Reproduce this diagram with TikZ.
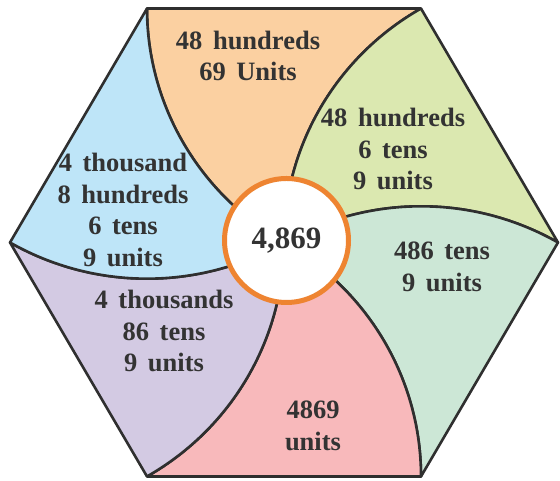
\documentclass[tikz,border=0pt]{standalone}
\usepackage{fontspec}
\setmainfont{Liberation Serif}[WordSpace=1.6]
\definecolor{outline}{HTML}{2F2F2F}
\definecolor{ink}{HTML}{333333}
\definecolor{ring}{HTML}{EE8431}
\definecolor{peach}{HTML}{FBD0A1}
\definecolor{lime}{HTML}{DBE8B0}
\definecolor{mint}{HTML}{CCE7D6}
\definecolor{rose}{HTML}{F8B9BB}
\definecolor{lilac}{HTML}{D3CAE3}
\definecolor{sky}{HTML}{BEE5F8}
\begin{document}
\begin{tikzpicture}[x=1pt,y=1pt,
  petal/.style={draw=outline, line width=2.6pt, line join=round},
  lbl/.style={text=ink, font=\fontsize{26.5}{31.5}\selectfont\bfseries, align=center, inner sep=0pt},
]
\useasboundingbox (0,0) rectangle (560,481);
% six petals of a hexagon, each bounded by two arcs of radius = side,
% centred on neighbouring corners and meeting in the middle
\def\side{274}
\begin{scope}[shift={(284,238.5)}, yscale=0.986]
  \foreach \b/\col in {60/peach, 0/lime, -60/mint, -120/rose, -180/lilac, 120/sky}
    \filldraw[petal, fill=\col] ({\b+60}:\side) -- (\b:\side)
      arc[start angle=\b+60, end angle=\b+120, radius=\side]
      arc[start angle=\b+180, end angle=\b+120, radius=\side] -- cycle;
\end{scope}
% central number
\node[circle, draw=ring, line width=5pt, fill=white, minimum size=124pt, inner sep=0pt,
      text=ink, font=\fontsize{31}{36}\selectfont\bfseries] (total) at (286.5,240.5) {4,869};
% petal labels
\node[lbl] (hundredsUnits) at (248,425) {48 hundreds\\69 Units};
\node[lbl] (hundredsTens) at (393,332) {48 hundreds\\6 tens\\9 units};
\node[lbl] (tensUnits) at (442,214) {486 tens\\9 units};
\node[lbl] (allUnits) at (313,55) {4869\\units};
\node[lbl] (thousandsTens) at (164,150) {4 thousands\\86 tens\\9 units};
\node[lbl] (expanded) at (123,271) {4 thousand\\8 hundreds\\6 tens\\9 units};
\end{tikzpicture}
\end{document}
